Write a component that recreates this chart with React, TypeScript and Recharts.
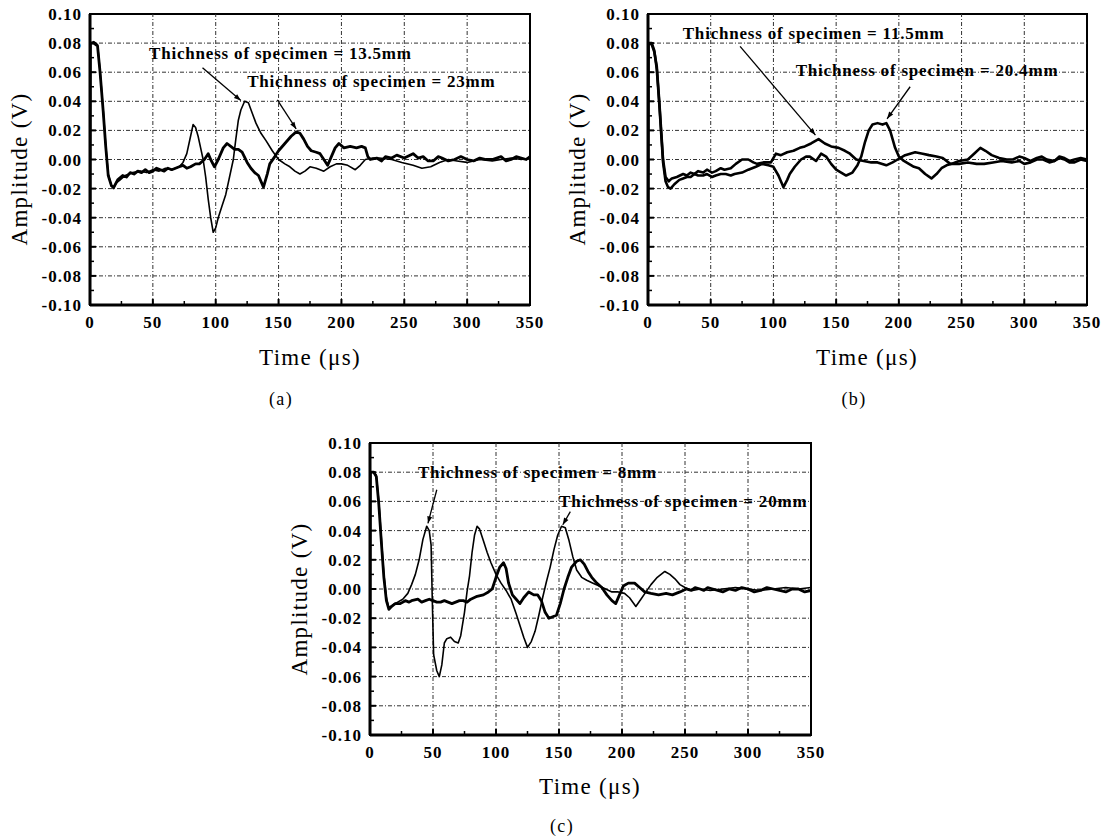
import { Line, LineChart, ReferenceArea, ReferenceDot, ReferenceLine, XAxis, YAxis } from "recharts";

type Pt = [number, number];

const xTicks = [0, 25, 50, 75, 100, 125, 150, 175, 200, 225, 250, 275, 300, 325, 350];
const yTicks = [-0.1, -0.09, -0.08, -0.07, -0.06, -0.05, -0.04, -0.03, -0.02, -0.01, 0, 0.01, 0.02, 0.03, 0.04, 0.05, 0.06, 0.07, 0.08, 0.09, 0.1];
const xGrid = [50, 100, 150, 200, 250, 300];
const yGrid = [-0.08, -0.06, -0.04, -0.02, 0, 0.02, 0.04, 0.06, 0.08];

// (a) 13.5 mm and 23 mm
const a135mm: Pt[] = [
  [0, -0.08], [0.3, 0.08], [3, 0.081], [6, 0.079], [8, 0.061], [10.5, 0.034], [12.5, 0.01], [14.5, -0.01],
  [17, -0.018], [18.5, -0.02], [21, -0.016], [24, -0.014], [28, -0.011], [34, -0.009], [40, -0.008],
  [45, -0.009], [50, -0.007], [55, -0.008], [60, -0.006], [65, -0.007], [71, -0.005], [74, -0.002],
  [77, 0.004], [80, 0.016], [82, 0.024], [84, 0.022], [86, 0.016], [88, 0.008], [90, 0], [92, -0.012],
  [94, -0.027], [96, -0.04], [98, -0.05], [100, -0.047], [102, -0.04], [105, -0.032], [108, -0.024],
  [111, -0.012], [114, 0], [116, 0.014], [118, 0.027], [120, 0.034], [123, 0.04], [126, 0.039],
  [129, 0.032], [132, 0.025], [136, 0.018], [140, 0.013], [145, 0.006], [150, 0], [155, -0.003],
  [159, -0.005], [163, -0.008], [167, -0.01], [171, -0.008], [175, -0.005], [180, -0.006], [186, -0.008],
  [191, -0.005], [196, -0.003], [200, -0.003], [205, -0.004], [211, -0.007], [215, -0.004], [219, 0],
  [225, 0.001], [230, 0.001], [240, 0], [248, -0.002], [257, -0.004], [264, -0.006], [271, -0.005],
  [278, -0.002], [285, 0], [292, -0.001], [300, -0.002], [310, 0], [320, -0.001], [327, 0], [335, 0.001],
  [343, 0], [350, 0.001],
];
const a23mm: Pt[] = [
  [0, -0.08], [0.3, 0.08], [3, 0.08], [6, 0.078], [8, 0.06], [10.5, 0.033], [12.5, 0.009], [14.5, -0.011],
  [17, -0.018], [19, -0.019], [22, -0.014], [26, -0.011], [29, -0.012], [32, -0.009], [35, -0.01],
  [38, -0.008], [41, -0.009], [44, -0.007], [47, -0.009], [50, -0.008], [53, -0.006], [56, -0.007],
  [59, -0.008], [62, -0.006], [65, -0.007], [68, -0.006], [71, -0.005], [74, -0.004], [77, -0.006],
  [80, -0.005], [84, -0.003], [87, -0.003], [91, 0], [94, 0.004], [96, 0], [99, -0.005], [102, 0],
  [106, 0.008], [109, 0.011], [112, 0.009], [115, 0.007], [118, 0.007], [121, 0.005], [125, -0.002],
  [128, -0.006], [131, -0.009], [134, -0.011], [138, -0.019], [141, -0.01], [143, -0.003], [147, 0.002],
  [150, 0.006], [155, 0.011], [160, 0.016], [164, 0.019], [167, 0.018], [170, 0.014], [173, 0.009],
  [176, 0.006], [180, 0.005], [183, 0.004], [186, 0], [189, -0.004], [192, 0.002], [195, 0.008],
  [198, 0.011], [202, 0.008], [207, 0.009], [212, 0.008], [216, 0.009], [219, 0.008], [221, 0.002],
  [223, 0], [228, 0.001], [232, -0.001], [235, 0.002], [240, 0.001], [244, 0.003], [250, 0.001],
  [257, 0.004], [261, 0.001], [265, 0.002], [269, -0.001], [273, -0.001], [277, 0.002], [280, 0.001],
  [285, -0.001], [290, 0], [295, 0.002], [300, 0], [305, -0.001], [310, 0.001], [315, 0], [320, 0],
  [327, 0.002], [331, -0.001], [335, 0], [339, 0.002], [343, 0.001], [347, 0], [350, 0.002],
];

// (b) 11.5 mm and 20.4 mm
const b115mm: Pt[] = [
  [0, -0.07], [0.3, 0.08], [3, 0.079], [5, 0.074], [7, 0.064], [9, 0.04], [10.5, 0.02], [12, 0],
  [14, -0.012], [16.5, -0.015], [19, -0.013], [23, -0.012], [28, -0.01], [31, -0.011], [34, -0.009],
  [37, -0.01], [40, -0.008], [44, -0.009], [47, -0.007], [51, -0.009], [54, -0.008], [58, -0.006],
  [61, -0.007], [66, -0.006], [70, -0.003], [75, 0], [80, 0], [84, -0.002], [87, -0.003], [92, -0.002],
  [98, -0.002], [102, 0.004], [106, 0.003], [111, 0.005], [116, 0.006], [121, 0.008], [125, 0.009],
  [130, 0.011], [136, 0.014], [141, 0.011], [146, 0.009], [152, 0.008], [157, 0.006], [161, 0.004],
  [166, 0], [172, -0.001], [178, -0.002], [183, -0.002], [190, -0.004], [195, -0.002], [199, 0],
  [205, 0.003], [213, 0.005], [219, 0.004], [224, 0.003], [230, 0.002], [235, 0.001], [241, -0.003],
  [248, -0.003], [255, -0.002], [262, -0.003], [268, -0.003], [275, -0.002], [282, -0.001], [290, -0.002],
  [296, -0.001], [300, -0.003], [305, -0.002], [310, 0], [315, 0], [320, -0.002], [324, -0.001],
  [328, 0.001], [332, 0], [336, -0.002], [340, -0.002], [345, 0], [350, -0.001],
];
const b204mm: Pt[] = [
  [0, -0.07], [0.3, 0.08], [3, 0.08], [5, 0.075], [7, 0.062], [9, 0.038], [10.5, 0.018], [12, -0.002],
  [14, -0.015], [16, -0.019], [18, -0.02], [21, -0.017], [25, -0.014], [28, -0.013], [31, -0.012],
  [34, -0.012], [37, -0.01], [40, -0.011], [44, -0.011], [47, -0.01], [51, -0.012], [54, -0.011],
  [58, -0.01], [62, -0.01], [66, -0.011], [69, -0.01], [75, -0.009], [80, -0.007], [86, -0.005],
  [91, -0.003], [96, -0.004], [100, -0.005], [104, -0.011], [108, -0.019], [111, -0.014], [113, -0.01],
  [117, -0.005], [122, 0], [126, 0.002], [129, 0.002], [134, -0.001], [138, 0.004], [142, 0.002],
  [146, -0.003], [150, -0.007], [154, -0.009], [158, -0.011], [163, -0.009], [167, -0.004], [170, 0.002],
  [173, 0.012], [176, 0.02], [179, 0.024], [183, 0.025], [187, 0.024], [190, 0.025], [193, 0.02],
  [195, 0.014], [197, 0.008], [200, 0.002], [204, -0.001], [208, -0.003], [212, -0.005], [216, -0.006],
  [221, -0.01], [226, -0.013], [230, -0.01], [234, -0.006], [238, -0.004], [242, -0.003], [248, -0.001],
  [255, 0], [260, 0.004], [265, 0.008], [269, 0.006], [274, 0.003], [280, 0.001], [286, 0], [291, 0],
  [296, 0.002], [300, 0.001], [305, -0.001], [310, 0.001], [314, 0.002], [318, 0], [324, -0.001],
  [328, 0.002], [332, 0.001], [336, -0.001], [340, 0], [345, 0.001], [350, 0],
];

// (c) 8 mm and 20 mm
const c8mm: Pt[] = [
  [0, -0.06], [0.3, 0.08], [3, 0.08], [5, 0.078], [7, 0.06], [9, 0.035], [11, 0.01], [13, -0.006],
  [15, -0.013], [18, -0.011], [22, -0.009], [26, -0.007], [30, -0.003], [33, 0.003], [36, 0.01],
  [39, 0.02], [42, 0.034], [45, 0.043], [47, 0.04], [48.5, 0.03], [49.5, -0.01], [50.5, -0.045],
  [53, -0.056], [55, -0.06], [57, -0.052], [59, -0.037], [61, -0.034], [64, -0.033], [67, -0.036],
  [70, -0.037], [72, -0.032], [75, -0.016], [77, -0.002], [79, 0.009], [81, 0.025], [83, 0.037],
  [85, 0.043], [87, 0.041], [90, 0.033], [93, 0.025], [96, 0.018], [100, 0.01], [104, 0.004],
  [108, -0.001], [112, -0.007], [116, -0.017], [119, -0.025], [122, -0.033], [125, -0.04], [128, -0.036],
  [131, -0.029], [134, -0.018], [137, -0.006], [140, 0.005], [143, 0.015], [146, 0.027], [149, 0.037],
  [152, 0.043], [155, 0.042], [158, 0.033], [161, 0.022], [164, 0.013], [168, 0.008], [172, 0.006],
  [177, 0.004], [182, 0.002], [187, 0], [192, -0.002], [197, -0.002], [202, -0.003], [206, -0.006],
  [211, -0.012], [215, -0.007], [219, -0.002], [223, 0.003], [228, 0.008], [234, 0.012], [238, 0.01],
  [242, 0.007], [246, 0.003], [250, 0.001], [256, -0.001], [262, 0], [270, -0.001], [280, 0], [290, 0.001],
  [300, 0], [310, -0.001], [320, 0], [330, 0.001], [340, 0], [350, 0.001],
];
const c20mm: Pt[] = [
  [0, -0.06], [0.3, 0.08], [3, 0.08], [5, 0.077], [7, 0.058], [9, 0.032], [11, 0.008], [13, -0.008],
  [15, -0.014], [17, -0.012], [20, -0.01], [24, -0.01], [28, -0.008], [31, -0.009], [33, -0.008],
  [38, -0.007], [41, -0.009], [44, -0.008], [47, -0.007], [50, -0.008], [53, -0.009], [56, -0.009],
  [59, -0.008], [62, -0.009], [65, -0.01], [68, -0.009], [71, -0.008], [74, -0.008], [77, -0.009],
  [80, -0.007], [85, -0.005], [90, -0.004], [94, -0.002], [97, 0], [100, 0.008], [103, 0.015],
  [106, 0.018], [108, 0.014], [110, 0.004], [113, -0.004], [116, -0.007], [119, -0.01], [122, -0.006],
  [126, -0.002], [130, -0.004], [133, -0.004], [136, -0.008], [139, -0.016], [142, -0.02], [145, -0.019],
  [148, -0.018], [151, -0.01], [154, 0], [157, 0.008], [160, 0.015], [164, 0.019], [167, 0.02],
  [170, 0.017], [173, 0.012], [176, 0.008], [180, 0.004], [184, 0.001], [188, -0.004], [192, -0.008],
  [195, -0.01], [198, -0.004], [201, 0.002], [205, 0.004], [210, 0.004], [214, 0.001], [218, -0.002],
  [223, -0.003], [229, -0.004], [235, -0.003], [240, -0.004], [246, -0.002], [251, 0], [255, -0.001],
  [258, 0.001], [262, 0], [265, -0.001], [268, 0.001], [272, 0], [276, -0.001], [280, -0.002],
  [285, 0], [290, -0.001], [295, 0.001], [300, 0], [305, -0.002], [310, -0.001], [315, 0.001],
  [320, 0], [325, -0.001], [330, -0.002], [335, 0], [340, 0], [345, -0.002], [350, -0.001],
];

const SERIF = "'Liberation Serif', 'Times New Roman', serif";

interface Note {
  t: number;
  v: number;
  text: string;
}
interface Arrow {
  from: Pt;
  to: Pt;
}
interface Series {
  pts: Pt[];
  w: number;
}
interface PanelProps {
  left: number;
  top: number;
  width: number;
  height: number;
  margin: { top: number; right: number; bottom: number; left: number };
  series: Series[];
  notes: Note[];
  arrows: Arrow[];
}

const XTick = ({ x, y, payload }: any) => {
  const major = payload.value % 50 === 0;
  return (
    <g>
      <line x1={x} y1={y} x2={x} y2={y - (major ? 6 : 4)} stroke="#000" strokeWidth={major ? 2 : 1.5} />
      {major && (
        <text x={x} y={y + 23} textAnchor="middle" fontFamily={SERIF} fontWeight="bold" fontSize={17} letterSpacing={1} fill="#000">
          {payload.value}
        </text>
      )}
    </g>
  );
};

const YTick = ({ x, y, payload }: any) => {
  const n = Math.round(payload.value * 100);
  const major = n % 2 === 0;
  return (
    <g>
      <line x1={x} y1={y} x2={x + (major ? 6 : 4)} y2={y} stroke="#000" strokeWidth={major ? 2 : 1.5} />
      {major && (
        <text x={x - 8} y={y + 6} textAnchor="end" fontFamily={SERIF} fontWeight="bold" fontSize={17} letterSpacing={1} fill="#000">
          {(n / 100).toFixed(2)}
        </text>
      )}
    </g>
  );
};

const arrowShape = (p: any) => {
  const { x1, y1, x2, y2 } = p;
  const a = Math.atan2(y2 - y1, x2 - x1);
  const L = 7;
  const s = 2.5;
  const bx = x2 - L * Math.cos(a);
  const by = y2 - L * Math.sin(a);
  return (
    <g>
      <line x1={x1} y1={y1} x2={x2} y2={y2} stroke="#000" strokeWidth={1.3} />
      <polygon
        points={`${x2},${y2} ${bx - s * Math.sin(a)},${by + s * Math.cos(a)} ${bx + s * Math.sin(a)},${by - s * Math.cos(a)}`}
        fill="#000"
      />
    </g>
  );
};

function Panel({ left, top, width, height, margin, series, notes, arrows }: PanelProps) {
  return (
    <div style={{ position: "absolute", left, top, width, height }}>
      <LineChart width={width} height={height} margin={margin}>
        <XAxis
          dataKey="t"
          type="number"
          domain={[0, 350]}
          ticks={xTicks}
          interval={0}
          height={30}
          tickSize={0}
          tickMargin={0}
          tickLine={false}
          tick={<XTick />}
          axisLine={{ stroke: "#000", strokeWidth: 3 }}
          allowDataOverflow
        />
        <YAxis
          type="number"
          domain={[-0.1, 0.1]}
          ticks={yTicks}
          interval={0}
          width={60}
          tickSize={0}
          tickMargin={0}
          tickLine={false}
          tick={<YTick />}
          axisLine={{ stroke: "#000", strokeWidth: 3 }}
          allowDataOverflow
        />
        <ReferenceArea x1={0} x2={350} y1={-0.1} y2={0.1} fill="none" stroke="#000" strokeWidth={2} />
        {xGrid.map((g) => (
          <ReferenceLine key={`x${g}`} x={g} stroke="#333" strokeWidth={1} strokeDasharray="4 2 1 2" />
        ))}
        {yGrid.map((g) => (
          <ReferenceLine key={`y${g}`} y={g} stroke="#333" strokeWidth={1} strokeDasharray="4 2 1 2" />
        ))}
        {series.map((s, i) => (
          <Line
            key={i}
            data={s.pts.map(([t, v]) => ({ t, v }))}
            dataKey="v"
            type="linear"
            dot={false}
            stroke="#000"
            strokeWidth={s.w}
            strokeLinejoin="round"
            isAnimationActive={false}
          />
        ))}
        {arrows.map((a, i) => (
          <ReferenceLine
            key={`ar${i}`}
            segment={[{ x: a.from[0], y: a.from[1] }, { x: a.to[0], y: a.to[1] }]}
            ifOverflow="visible"
            shape={arrowShape}
          />
        ))}
        {notes.map((n, i) => (
          <ReferenceDot
            key={`n${i}`}
            x={n.t}
            y={n.v}
            r={0}
            fill="none"
            stroke="none"
            ifOverflow="visible"
            label={{
              value: n.text,
              position: "right",
              offset: 0,
              fill: "#000",
              fontSize: 17,
              fontWeight: "bold",
              fontFamily: SERIF,
              letterSpacing: 0.8,
            }}
          />
        ))}
      </LineChart>
    </div>
  );
}

const textStyle = (x: number, y: number, size: number, rotate = false): React.CSSProperties => ({
  position: "absolute",
  left: x,
  top: y,
  transform: `translate(-50%, -50%)${rotate ? " rotate(-90deg)" : ""}`,
  whiteSpace: "nowrap",
  fontFamily: SERIF,
  fontSize: size,
  letterSpacing: 1.3,
  color: "#000",
  lineHeight: 1,
});

export default function App() {
  return (
    <div style={{ position: "absolute", left: 0, top: 0, width: 1111, height: 840, background: "#fff", overflow: "hidden" }}>
      <Panel
        left={0}
        top={0}
        width={560}
        height={340}
        margin={{ top: 14, right: 30, bottom: 5, left: 30 }}
        series={[
          { pts: a135mm, w: 1.6 },
          { pts: a23mm, w: 2.8 },
        ]}
        notes={[
          { t: 47, v: 0.0735, text: "Thichness of specimen = 13.5mm" },
          { t: 125, v: 0.054, text: "Thichness of specimen = 23mm" },
        ]}
        arrows={[
          { from: [89.5, 0.063], to: [120, 0.0405] },
          { from: [149, 0.041], to: [164, 0.021] },
        ]}
      />
      <Panel
        left={556}
        top={0}
        width={555}
        height={340}
        margin={{ top: 14, right: 24, bottom: 5, left: 32 }}
        series={[
          { pts: b115mm, w: 2.6 },
          { pts: b204mm, w: 2.6 },
        ]}
        notes={[
          { t: 27.7, v: 0.087, text: "Thichness of specimen = 11.5mm" },
          { t: 117.7, v: 0.0616, text: "Thichness of specimen = 20.4mm" },
        ]}
        arrows={[
          { from: [73.4, 0.0777], to: [133.5, 0.0168] },
          { from: [209, 0.05], to: [190.6, 0.028] },
        ]}
      />
      <Panel
        left={280}
        top={420}
        width={560}
        height={350}
        margin={{ top: 23, right: 29, bottom: 5, left: 30 }}
        series={[
          { pts: c8mm, w: 1.6 },
          { pts: c20mm, w: 2.8 },
        ]}
        notes={[
          { t: 38, v: 0.08, text: "Thichness of specimen = 8mm" },
          { t: 150, v: 0.06, text: "Thichness of specimen = 20mm" },
        ]}
        arrows={[
          { from: [53, 0.068], to: [46, 0.045] },
          { from: [159, 0.053], to: [153, 0.044] },
        ]}
      />

      <div style={textStyle(19, 169, 23, true)}>Amplitude (V)</div>
      <div style={textStyle(577, 169, 23, true)}>Amplitude (V)</div>
      <div style={textStyle(299, 599, 23, true)}>Amplitude (V)</div>

      <div style={textStyle(310, 357, 23)}>Time (μs)</div>
      <div style={textStyle(867, 357, 23)}>Time (μs)</div>
      <div style={textStyle(590, 786, 23)}>Time (μs)</div>

      <div style={textStyle(281, 399, 18)}>(a)</div>
      <div style={textStyle(854, 399, 18)}>(b)</div>
      <div style={textStyle(562, 826, 18)}>(c)</div>
    </div>
  );
}
